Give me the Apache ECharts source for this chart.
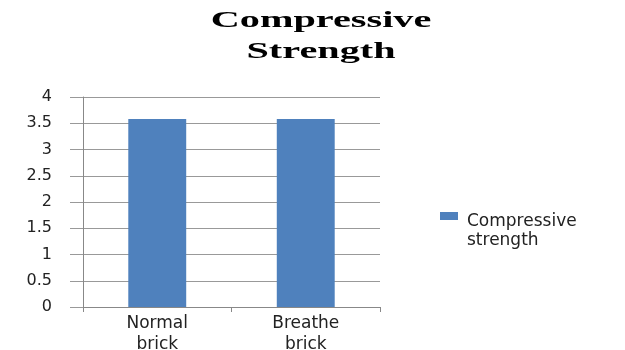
<!DOCTYPE html>
<html>
<head>
<meta charset="utf-8">
<script src="https://cdn.jsdelivr.net/npm/echarts@6/dist/echarts.min.js"></script>
<style>
  html, body { margin: 0; padding: 0; background: #fff; }
  #main { width: 625px; height: 350px; }
</style>
</head>
<body>
<div id="main"></div>
<script>
const categories = ['Normal\nbrick', 'Breathe\nbrick'];
const strength = [3.58, 3.58];
const seriesName = 'Compressive\nstrength';
const titleText = 'Compressive\nStrength';

const chart = echarts.init(document.getElementById('main'));
const labelFont = 'DejaVu Sans';

let option = {
  animation: false,
  // title drawn as graphic text so it can be widened like the reference
  graphic: [
    {
      type: 'text',
      x: 321,
      y: 6,
      scaleX: 1.75,
      style: {
        text: titleText,
        textAlign: 'center',
        fontFamily: 'Liberation Serif',
        fontWeight: 'bold',
        fontSize: 23,
        lineHeight: 31,
        fill: '#000'
      }
    }
  ],
  legend: {
    left: 440,
    top: 212,
    padding: 0,
    itemWidth: 22,
    itemHeight: 38,
    icon: 'path://M0,0H18V8H0Z M21.9,37.9H22V38H21.9Z',
    textStyle: {
      fontFamily: labelFont,
      fontSize: 17,
      lineHeight: 19,
      color: '#222'
    },
    data: [seriesName]
  },
  grid: {
    left: 83,
    right: 245,
    top: 97,
    bottom: 43,
    containLabel: false,
    outerBoundsMode: 'none'
  },
  xAxis: {
    type: 'category',
    data: categories,
    axisLine: {lineStyle: {color: '#888'}},
    axisTick: {show: true, length: 5, lineStyle: {color: '#888'}},
    axisLabel: {
      fontFamily: labelFont,
      fontSize: 17,
      lineHeight: 21,
      color: '#222',
      margin: 6
    }
  },
  yAxis: {
    type: 'value',
    min: 0,
    max: 4,
    interval: 0.5,
    axisLine: {show: true, lineStyle: {color: '#888'}},
    axisTick: {show: true, length: 13, lineStyle: {color: '#999'}},
    splitLine: {lineStyle: {color: '#999'}},
    axisLabel: {
      fontFamily: labelFont,
      fontSize: 16,
      color: '#222',
      margin: 31,
      padding: [0, 0, 10, 0]
    }
  },
  series: [
    {
      type: 'bar',
      name: seriesName,
      data: strength,
      barWidth: '39%',
      itemStyle: {color: '#4F81BD'}
    }
  ]
};
chart.setOption(option);
</script>
</body>
</html>
